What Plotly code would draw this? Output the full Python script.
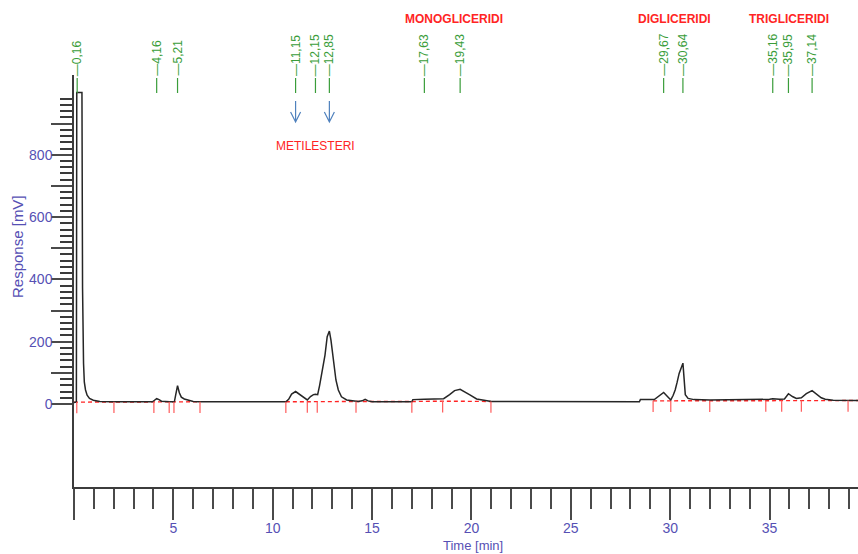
import numpy as np
import plotly.graph_objects as go

# Chromatogram signal (time in min, response in mV)
time_min = [0.00, 0.12, 0.14, 0.40, 0.43, 0.45, 0.48, 0.52, 0.58, 0.66, 0.78, 0.97, 1.30, 2.00,
            3.95, 4.05, 4.16, 4.28, 4.40, 4.80,
            5.05, 5.12, 5.21, 5.30, 5.40, 5.55, 5.75, 6.00, 6.30,
            10.66, 10.80, 10.95, 11.15, 11.35, 11.55, 11.74, 11.90, 12.05, 12.15, 12.26,
            12.36, 12.46, 12.55, 12.63, 12.74, 12.85, 12.93, 13.05, 13.18, 13.30, 13.46,
            13.72, 14.05, 14.30, 14.50, 14.65, 14.80, 15.00, 17.00,
            17.05, 17.63, 18.40, 18.60, 18.90, 19.15, 19.43, 19.65, 19.92, 20.26, 20.60, 21.00,
            28.45, 28.50, 29.20, 29.40, 29.67, 29.85, 30.03, 30.15, 30.25, 30.35, 30.45, 30.64,
            30.70, 30.76, 30.90, 31.20, 32.00, 34.80, 35.00, 35.16, 35.50, 35.75, 35.95, 36.15,
            36.35, 36.60, 36.85, 37.14, 37.35, 37.60, 37.80, 38.20, 39.45]
response_mv = [5, 6, 1000, 1000, 372, 215, 130, 70, 45, 28, 18, 12, 8, 7,
               7, 12, 17, 14, 9, 7,
               7, 30, 59, 36, 22, 16, 12, 8, 7,
               7, 15, 32, 40, 31, 20, 13, 24, 30, 31, 30,
               60, 93, 125, 157, 216, 234, 205, 141, 77, 45, 23,
               13, 10, 8, 10, 15, 10, 7, 7,
               14, 15, 15, 17, 30, 43, 47, 40, 29, 16, 12, 8,
               7, 14, 14, 25, 37, 25, 13, 28, 45, 70, 98, 131,
               80, 30, 18, 14, 13, 13, 15, 17, 15, 16, 33, 24,
               18, 20, 33, 43, 33, 20, 15, 12, 11]

# Integration marks and the baseline level at each
integration_marks = [0.14, 2.01, 4.02, 4.79, 5.03, 6.34, 10.66, 11.74, 12.24, 14.19, 17.00,
                     18.55, 20.98, 29.14, 30.03, 31.99, 34.81, 35.61, 36.60, 38.95]
mark_levels = [6, 7, 7, 7, 7, 7, 7, 8, 8, 8, 8, 9, 8, 10, 10, 10, 11, 11, 11, 11]
# Baseline segments (start, end) in min
baseline_segments = [(0.0, 6.34), (10.66, 20.98), (29.14, 39.45)]

# Labelled retention times
retention_times = [0.16, 4.16, 5.21, 11.15, 12.15, 12.85, 17.63, 19.43, 29.67, 30.64,
                   35.16, 35.95, 37.14]
arrow_times = [11.15, 12.85]

group_labels = ["MONOGLICERIDI", "DIGLICERIDI", "TRIGLICERIDI"]
group_label_times = [19.10, 30.20, 36.00]

y_label_ticks = [0, 100, 200, 300, 400, 500, 600, 700, 800, 900]
x_label_ticks = [0, 5, 10, 15, 20, 25, 30, 35]

W, H = 858, 554
L, R, T, B = 74, 0, 75, 67
X_RANGE = [0, 39.45]
Y_RANGE = [-266.5, 1056]
plot_h = H - T - B


def ypaper(py):
    return (H - B - py) / plot_h


def xpaper(px):
    return (px - L) / (W - L - R)


AXIS_BLUE = "#5650b4"
GREEN = "#3a9d3a"
RED = "#ff2424"
NARROW = "Liberation Sans Narrow, Arial Narrow, Liberation Sans, Arial, sans-serif"

fig = go.Figure()

# Integration baselines (red dashed)
bx, by = [], []
for s, e in baseline_segments:
    pts = [(t, lv) for t, lv in zip(integration_marks, mark_levels) if s <= t <= e]
    seg_t = [s] + [p[0] for p in pts] + [e]
    seg_y = [pts[0][1]] + [p[1] for p in pts] + [pts[-1][1]]
    bx += seg_t + [None]
    by += seg_y + [None]
fig.add_trace(go.Scatter(x=bx, y=by, mode="lines", hoverinfo="skip",
                         line=dict(color=RED, width=1.4, dash="4px,3px")))

# Signal
fig.add_trace(go.Scatter(x=time_min, y=response_mv, mode="lines",
                         line=dict(color="#262626", width=1.5)))

# Integration mark ticks
mx, my = [], []
for t, lv in zip(integration_marks, mark_levels):
    mx += [t, t, None]
    my += [lv, lv - 36, None]
fig.add_trace(go.Scatter(x=mx, y=my, mode="lines", hoverinfo="skip",
                         line=dict(color="#ff5a5a", width=1.2)))

shapes = []
annotations = []

# Retention time labels
for t in retention_times:
    shapes.append(dict(type="line", xref="x", yref="paper", x0=t, x1=t,
                       y0=ypaper(93), y1=ypaper(78),
                       line=dict(color=GREEN, width=1.2)))
    annotations.append(dict(x=t, y=ypaper(78), xref="x", yref="paper",
                            text="—" + f"{t:.2f}".replace(".", ","),
                            textangle=-90, showarrow=False,
                            xanchor="center", yanchor="bottom",
                            font=dict(family="Liberation Sans, Arial", size=12, color=GREEN)))

# Arrows for the methyl ester peaks
for t in arrow_times:
    tip, tail = ypaper(122), ypaper(101)
    hh = 10 / plot_h
    hw = 5 / ((W - L - R) / (X_RANGE[1] - X_RANGE[0]))
    shapes.append(dict(type="path", xref="x", yref="paper",
                       path=f"M {t},{tail} L {t},{tip} M {t - hw},{tip + hh} L {t},{tip} L {t + hw},{tip + hh}",
                       line=dict(color="#4f81bd", width=1.2)))

# Compound class labels
for txt, t in zip(group_labels, group_label_times):
    annotations.append(dict(x=t, y=ypaper(19), xref="x", yref="paper", text=f"<b>{txt}</b>",
                            showarrow=False, xanchor="center", yanchor="middle",
                            font=dict(family="Liberation Sans, Arial", size=12, color=RED)))
annotations.append(dict(x=xpaper(315), y=ypaper(146), xref="paper", yref="paper",
                        text="METILESTERI", showarrow=False, xanchor="center", yanchor="middle",
                        font=dict(family="Liberation Sans, Arial", size=12, color=RED)))

# Axis titles
annotations.append(dict(x=xpaper(473), y=ypaper(545), xref="paper", yref="paper",
                        text="Time [min]", showarrow=False, xanchor="center", yanchor="middle",
                        font=dict(family=NARROW, size=13, color=AXIS_BLUE)))
annotations.append(dict(x=xpaper(17), y=ypaper(247), xref="paper", yref="paper",
                        text="Response [mV]", showarrow=False, textangle=-90,
                        xanchor="center", yanchor="middle",
                        font=dict(family="Liberation Sans, Arial", size=15, color=AXIS_BLUE)))

y_text = [str(v) if v % 200 == 0 else "" for v in y_label_ticks]
y_minor = [v for v in range(20, 1000, 20) if v % 100 != 0]
x_minor = [v for v in range(1, 40) if v % 5 != 0]
x_text = ["" if v == 0 else str(v) for v in x_label_ticks]

fig.update_layout(
    width=W, height=H,
    margin=dict(l=L, r=R, t=T, b=B),
    paper_bgcolor="white", plot_bgcolor="white",
    showlegend=False,
    shapes=shapes, annotations=annotations,
    xaxis=dict(range=X_RANGE, showgrid=False, zeroline=False,
               showline=True, linecolor="#3c3c3c", linewidth=1.5,
               ticks="outside", tickmode="array", tickvals=x_label_ticks, ticktext=x_text,
               ticklen=31, tickwidth=1.5, tickcolor="#4a4a4a",
               ticklabelstandoff=-4,
               tickfont=dict(family=NARROW, size=14, color=AXIS_BLUE),
               minor=dict(tickmode="array", tickvals=x_minor, ticks="outside",
                          ticklen=20, tickwidth=1.5, tickcolor="#4a4a4a")),
    yaxis=dict(range=Y_RANGE, showgrid=False, zeroline=False,
               showline=True, linecolor="#3c3c3c", linewidth=1.5,
               ticks="outside", tickmode="array", tickvals=y_label_ticks, ticktext=y_text,
               ticklen=21, tickwidth=1.5, tickcolor="#4a4a4a",
               ticklabelstandoff=-4,
               tickfont=dict(family=NARROW, size=14, color=AXIS_BLUE),
               minor=dict(tickmode="array", tickvals=y_minor, ticks="outside",
                          ticklen=12, tickwidth=1.5, tickcolor="#3a3a3a")),
)

fig.write_html("out.html")
